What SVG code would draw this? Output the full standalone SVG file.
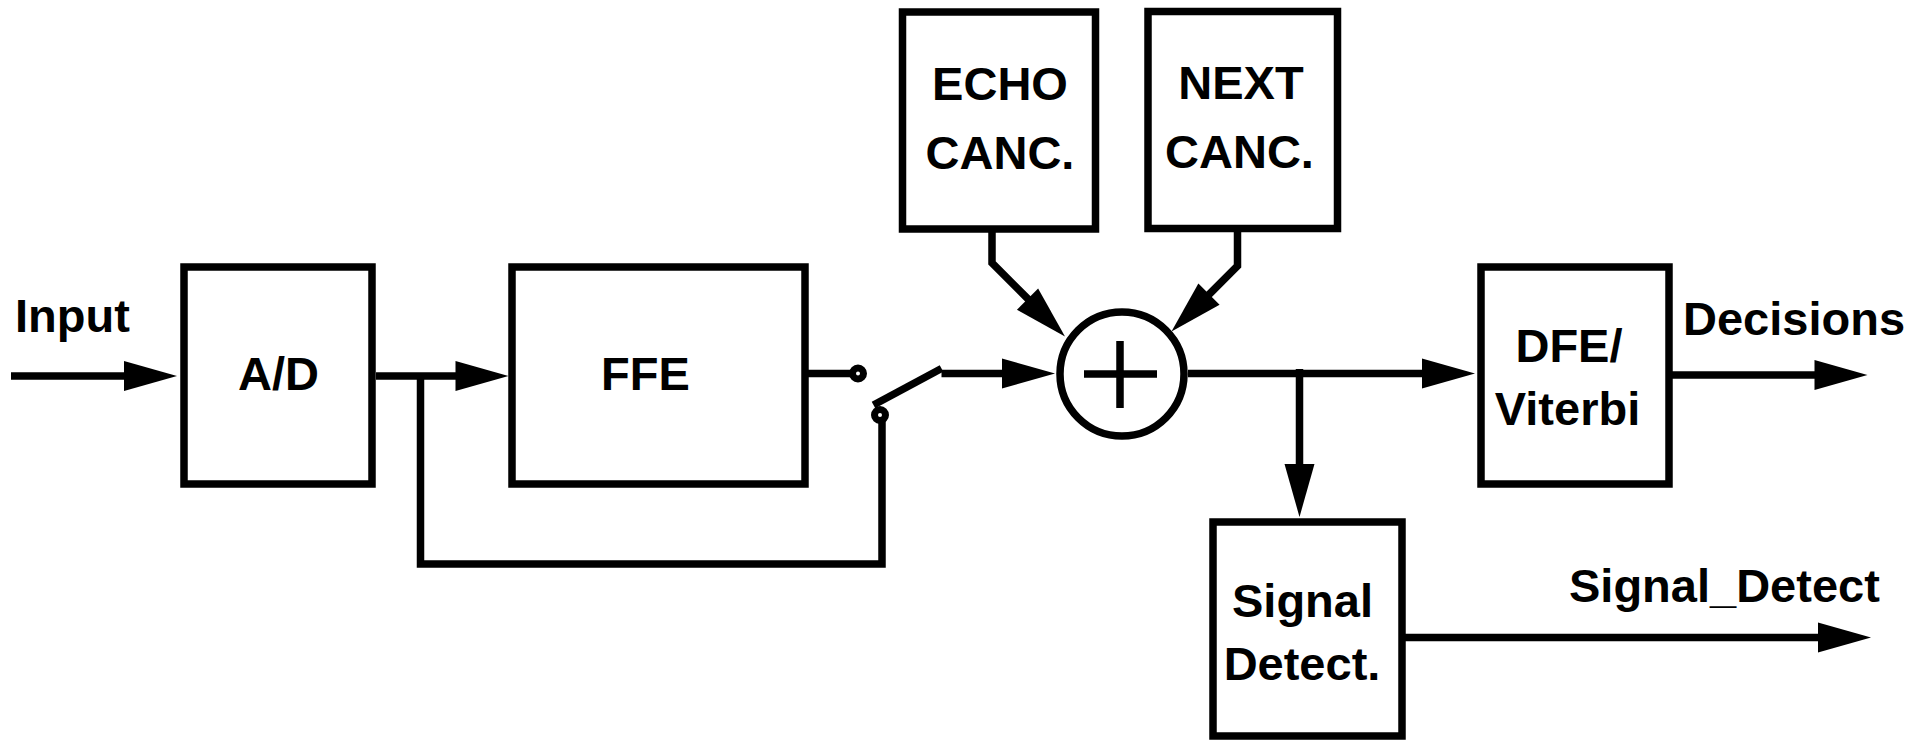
<svg xmlns="http://www.w3.org/2000/svg" xmlns:xlink="http://www.w3.org/1999/xlink" width="1927" height="742" viewBox="0 0 1927 742">
  <style>
    .box { fill: #ffffff; stroke: #000000; stroke-width: 7.5; }
    .wire { fill: none; stroke: #000000; stroke-width: 7.5; stroke-linejoin: miter; stroke-linecap: butt; }
    .contact { fill: #ffffff; stroke: #000000; stroke-width: 7; }
    .lbl { font-family: "Liberation Sans", Arial, sans-serif; font-weight: bold; font-size: 47px; fill: #000000; }
    .mid { text-anchor: middle; }
  </style>
  <defs>
    <path id="ah" d="M-53,-15 L0,0 L-53,15 Z" fill="#000000"/>
  </defs>
  <rect width="1927" height="742" fill="#ffffff"/>

  <g id="connectors">
    <!-- Input -->
    <path class="wire" d="M11,376 H130"/>
    <use xlink:href="#ah" href="#ah" transform="translate(177,376)"/>
    <!-- A/D to FFE -->
    <path class="wire" d="M376,376 H465"/>
    <use xlink:href="#ah" href="#ah" transform="translate(508.5,376)"/>
    <!-- bypass -->
    <path class="wire" d="M420.5,376 V564 H882 V415"/>
    <!-- FFE out to upper contact -->
    <path class="wire" d="M805,373.5 H858"/>
    <!-- lever -->
    <path class="wire" d="M873.5,405 L941.5,368.5"/>
    <!-- switch to sum -->
    <path class="wire" d="M941.5,373.5 H1010"/>
    <use xlink:href="#ah" href="#ah" transform="translate(1055,373.5)"/>
    <!-- echo -->
    <path class="wire" d="M992,229 V263 L1034,305"/>
    <use xlink:href="#ah" href="#ah" transform="translate(1065,336.5) rotate(45)"/>
    <!-- next -->
    <path class="wire" d="M1237.5,229 V266 L1203,300.5"/>
    <use xlink:href="#ah" href="#ah" transform="translate(1171.5,331.5) rotate(135)"/>
    <!-- sum out -->
    <path class="wire" d="M1188,373.5 H1430"/>
    <use xlink:href="#ah" href="#ah" transform="translate(1475,373.5)"/>
    <!-- branch to signal detect -->
    <path class="wire" d="M1299.5,369 V470"/>
    <use xlink:href="#ah" href="#ah" transform="translate(1299.5,517) rotate(90)"/>
    <!-- decisions -->
    <path class="wire" d="M1669,375 H1820"/>
    <use xlink:href="#ah" href="#ah" transform="translate(1867.5,375)"/>
    <!-- signal detect out -->
    <path class="wire" d="M1402,637.5 H1825"/>
    <use xlink:href="#ah" href="#ah" transform="translate(1871,637.5)"/>
    <!-- contacts -->
    <circle class="contact" cx="858" cy="373.5" r="5.5"/>
    <circle class="contact" cx="880" cy="415" r="5.5"/>
  </g>

  <g id="input-label">
    <text class="lbl" x="15" y="332">Input</text>
  </g>

  <g id="ad">
    <rect class="box" x="184" y="267" width="188" height="217"/>
    <text class="lbl mid" x="278.5" y="390">A/D</text>
  </g>

  <g id="ffe">
    <rect class="box" x="512" y="267" width="293" height="217"/>
    <text class="lbl mid" x="645.5" y="390">FFE</text>
  </g>

  <g id="echo">
    <rect class="box" x="902.5" y="12" width="193" height="217"/>
    <text class="lbl mid" x="1000" y="100">ECHO</text>
    <text class="lbl mid" x="1000" y="169">CANC.</text>
  </g>

  <g id="next">
    <rect class="box" x="1148" y="11.5" width="189.5" height="217"/>
    <text class="lbl mid" x="1241" y="99">NEXT</text>
    <text class="lbl mid" x="1239.5" y="168">CANC.</text>
  </g>

  <g id="sum">
    <circle cx="1122" cy="374" r="62" fill="#ffffff" stroke="#000000" stroke-width="7.5"/>
    <path class="wire" d="M1084,374 H1157 M1120,341 V408"/>
  </g>

  <g id="dfe">
    <rect class="box" x="1481" y="267" width="188" height="217"/>
    <text class="lbl mid" x="1569" y="362">DFE/</text>
    <text class="lbl mid" x="1567.5" y="425">Viterbi</text>
  </g>

  <g id="decisions-label">
    <text class="lbl" x="1683" y="335">Decisions</text>
  </g>

  <g id="signal-detect">
    <rect class="box" x="1213" y="522" width="189" height="214"/>
    <text class="lbl mid" x="1302.5" y="617">Signal</text>
    <text class="lbl mid" x="1302" y="680">Detect.</text>
  </g>

  <g id="signal-detect-label">
    <text class="lbl" x="1569" y="602">Signal_Detect</text>
  </g>
</svg>
